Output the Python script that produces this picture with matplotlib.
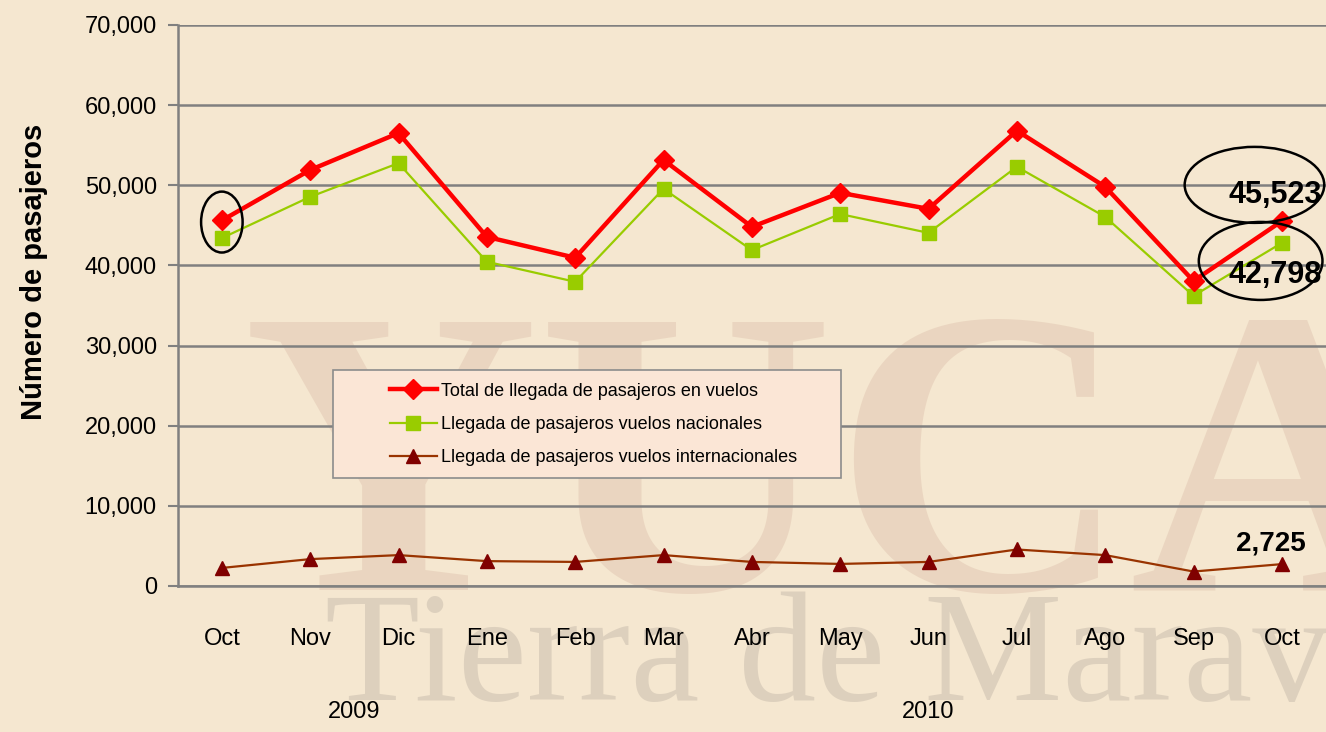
import matplotlib.pyplot as plt
from matplotlib.patches import Ellipse, Rectangle
import numpy as np

months = ["Oct", "Nov", "Dic", "Ene", "Feb", "Mar", "Abr", "May", "Jun", "Jul", "Ago", "Sep", "Oct"]
years = ["2009", "2010"]
total = [45600, 51900, 56500, 43550, 40950, 53150, 44800, 49050, 47050, 56800, 49800, 38050, 45523]
nacional = [43400, 48550, 52750, 40450, 37950, 49550, 41900, 46400, 44050, 52300, 46050, 36200, 42798]
internacional = [2250, 3350, 3850, 3100, 3000, 3850, 3000, 2750, 3000, 4550, 3850, 1800, 2725]

legend_labels = [
    "Total de llegada de pasajeros en vuelos",
    "Llegada de pasajeros vuelos nacionales",
    "Llegada de pasajeros vuelos internacionales",
]

plt.rcParams["font.family"] = ["Liberation Sans", "DejaVu Sans"]

BG = "#f5e7d0"
fig = plt.figure(figsize=(13.26, 7.32), dpi=100)
fig.patch.set_facecolor(BG)

# faint watermark behind the chart (background picture of the original slide)
fig.text(0.183, 0.194, "YUCATAN", fontsize=295, family="Liberation Serif", fontweight="bold",
         color="#c09080", alpha=0.2, ha="left", va="baseline", zorder=-2)
fig.text(0.245, 0.044, "Tierra de Maravillas", fontsize=112, family="Liberation Serif",
         color="#9a9088", alpha=0.26, ha="left", va="baseline", zorder=-2)

ax = fig.add_axes([0.134, 0.1995, 0.866, 0.7665])
ax.set_zorder(1)
ax.set_facecolor("none")
x = np.arange(len(months))

h_tot, = ax.plot(x, total, color="#ff0000", lw=3.2, marker="D", ms=10, mec="#ff0000", mfc="#ff0000",
                 zorder=5)
h_nac, = ax.plot(x, nacional, color="#99cc00", lw=1.6, marker="s", ms=10, mec="#99cc00", mfc="#99cc00",
                 zorder=4)
h_int, = ax.plot(x, internacional, color="#993300", lw=1.6, marker="^", ms=10, mec="#800000", mfc="#800000",
                 zorder=4)

ax.set_xlim(-0.5, len(months) - 0.5)
ax.set_ylim(0, 70000)
ax.set_yticks(np.arange(0, 70001, 10000))
ax.set_yticklabels([f"{v:,}" for v in range(0, 70001, 10000)], fontsize=17)
ax.set_xticks(x)
ax.set_xticklabels(months, fontsize=17)
ax.tick_params(axis="x", length=0, pad=30)
ax.tick_params(axis="y", length=7, width=1.5, color="#808080", pad=8)
ax.grid(axis="y", color="#808080", lw=1.8, zorder=1)
for s in ["top", "right"]:
    ax.spines[s].set_visible(False)
for s in ["left", "bottom"]:
    ax.spines[s].set_color("#808080")
    ax.spines[s].set_linewidth(1.8)

ax.set_ylabel("Número de pasajeros", fontsize=21, fontweight="bold")
ax.yaxis.set_label_coords(-0.113, 0.56)

# year labels under month groups
ax.text(1.5, -0.2246, years[0], transform=ax.get_xaxis_transform(), ha="center", va="center", fontsize=17)
ax.text(8.0, -0.2246, years[1], transform=ax.get_xaxis_transform(), ha="center", va="center", fontsize=17)

# value labels for the last month
last = len(months) - 1
ax.text(last + 0.45, 48800, f"{total[-1]:,}", ha="right", va="center", fontsize=22, fontweight="bold", zorder=7)
ax.text(last + 0.45, 38800, f"{nacional[-1]:,}", ha="right", va="center", fontsize=22, fontweight="bold", zorder=7)
ax.text(last + 0.27, 5300, f"{internacional[-1]:,}", ha="right", va="center", fontsize=20, fontweight="bold", zorder=7)

# hand-drawn style ellipses
for cx, cy, w, h in [(0.0, 45400, 0.47, 7600), (11.69, 50040, 1.58, 9480), (11.76, 40550, 1.40, 9730)]:
    ax.add_patch(Ellipse((cx, cy), w, h, fill=False, ec="black", lw=1.8, clip_on=False, zorder=6))

# legend box
ax.add_patch(Rectangle((0.135, 0.1925), 0.443, 0.1925, transform=ax.transAxes,
                       fc="#fbe6d6", ec="#8c8c8c", lw=1.2, zorder=8))
leg = ax.legend([h_tot, h_nac, h_int], legend_labels, loc="center left", bbox_to_anchor=(0.1847, 0.288),
                fontsize=13, frameon=False, handlelength=2.6, borderpad=0, borderaxespad=0,
                labelspacing=0.9, handletextpad=0.25)
leg.set_zorder(9)

fig.savefig("out.png", dpi=100, facecolor=fig.get_facecolor())
